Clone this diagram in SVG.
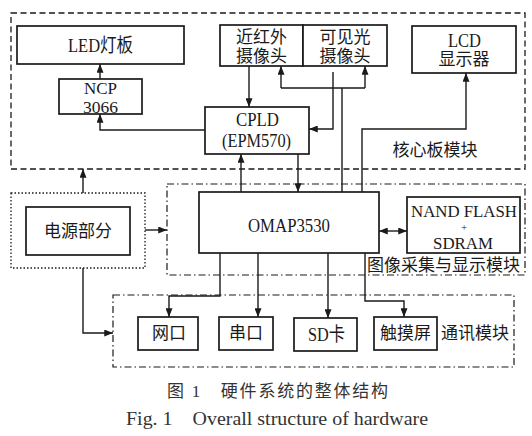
<svg xmlns="http://www.w3.org/2000/svg" width="532" height="436" viewBox="0 0 532 436">
<style>
.box{fill:#fff;stroke:#1a1a1a;stroke-width:1.7}
.dash{fill:none;stroke:#1a1a1a;stroke-width:1.3;stroke-dasharray:6,3.5}
.dd{fill:none;stroke:#1a1a1a;stroke-width:1.2;stroke-dasharray:7,3,1.5,3}
.dot{fill:none;stroke:#1a1a1a;stroke-width:1.3;stroke-dasharray:1.5,2}
.c{fill:none;stroke:#1a1a1a;stroke-width:1.4}
.a{marker-end:url(#ah)}
text{font-family:"Liberation Serif","Noto Sans CJK SC",serif;font-size:19px;fill:#1a1a1a;text-anchor:middle;dominant-baseline:central}
.zh{font-size:17px}
.cap{fill:#333}
</style>
<defs>
<marker id="ah" viewBox="0 0 10 8" refX="10" refY="4" markerWidth="9" markerHeight="7" markerUnits="userSpaceOnUse" orient="auto">
<path d="M0,0 L10,4 L0,8 Z" fill="#1a1a1a"/>
</marker>
<marker id="as" viewBox="0 0 10 8" refX="0" refY="4" markerWidth="9" markerHeight="7" markerUnits="userSpaceOnUse" orient="auto">
<path d="M10,0 L0,4 L10,8 Z" fill="#1a1a1a"/>
</marker>
</defs>
<rect width="532" height="436" fill="#fff"/>
<g id="groups">
<rect class="dash" x="11" y="13" width="514" height="156"/>
<rect class="dd" x="167" y="184" width="358" height="91"/>
<rect class="dd" x="113" y="295" width="401" height="72"/>
<rect class="dot" x="11" y="193" width="134" height="75"/>
<text class="zh" x="435" y="150">核心板模块</text>
<text class="zh" x="443.5" y="265">图像采集与显示模块</text>
<text class="zh" x="475" y="333">通讯模块</text>
</g>
<g id="connectors">
<path class="c a" d="M100,79 V64"/>
<path class="c a" d="M205,130 H100 V114"/>
<path class="c a" d="M249,66 V107"/>
<path class="c" d="M342,192 V88 M281,88 H365"/>
<path class="c a" d="M281,88 V66"/>
<path class="c a" d="M365,88 V66"/>
<path class="c a" d="M333,72 V129 H309"/>
<path class="c a" d="M362,192 V129 H466 V73"/>
<path class="c a" d="M298,154 V192"/>
<path class="c a" d="M241,192 V154"/>
<path class="c a" d="M83,193 V169"/>
<path class="c a" d="M145,230 H167"/>
<path class="c a" d="M379,231 H407" marker-start="url(#as)"/>
<path class="c a" d="M83,268 V333 H113"/>
<path class="c a" d="M220,253 V296 H169 V317"/>
<path class="c a" d="M258,253 V317"/>
<path class="c a" d="M328,253 V318"/>
<path class="c a" d="M365,253 V301 H404 V317"/>
</g>
<g id="led"><rect class="box" x="17" y="26" width="167" height="38"/><text x="100.5" y="45" textLength="65" lengthAdjust="spacingAndGlyphs">LED灯板</text></g>
<g id="ncp"><rect class="box" x="59" y="79" width="83" height="35"/><text style="font-size:17px"><tspan x="100.5" y="87.5" textLength="33" lengthAdjust="spacingAndGlyphs">NCP</tspan><tspan x="100.5" y="106.5" textLength="35" lengthAdjust="spacingAndGlyphs">3066</tspan></text></g>
<g id="cam-ir"><rect class="box" x="220" y="25" width="83" height="41"/><text class="zh"><tspan x="261.5" y="37">近红外</tspan><tspan x="261.5" y="56">摄像头</tspan></text></g>
<g id="cam-vis"><rect class="box" x="303" y="25" width="84" height="41"/><text class="zh"><tspan x="345" y="37">可见光</tspan><tspan x="345" y="56">摄像头</tspan></text></g>
<g id="lcd"><rect class="box" x="412" y="26" width="104" height="47"/><text x="464.5" y="40" textLength="33" lengthAdjust="spacingAndGlyphs">LCD</text><text class="zh" x="464" y="59">显示器</text></g>
<g id="cpld"><rect class="box" x="205" y="107" width="104" height="47"/><text><tspan x="257.5" y="118.5" textLength="43" lengthAdjust="spacingAndGlyphs">CPLD</tspan><tspan x="256.5" y="140" textLength="69" lengthAdjust="spacingAndGlyphs">(EPM570)</tspan></text></g>
<g id="power"><rect class="box" x="26" y="207" width="104" height="48"/><text class="zh" x="78" y="231">电源部分</text></g>
<g id="omap"><rect class="box" x="199" y="192" width="180" height="61"/><text x="289" y="225" textLength="82" lengthAdjust="spacingAndGlyphs">OMAP3530</text></g>
<g id="nand"><rect class="box" x="407" y="197" width="113" height="56"/><text style="font-size:17.5px"><tspan x="464" y="211" textLength="106" lengthAdjust="spacingAndGlyphs">NAND FLASH</tspan><tspan x="464" y="227" style="font-size:11px">+</tspan><tspan x="463" y="243" textLength="60" lengthAdjust="spacingAndGlyphs">SDRAM</tspan></text></g>
<g id="net"><rect class="box" x="138" y="317" width="60" height="33"/><text class="zh" x="169" y="333.5">网口</text></g>
<g id="serial"><rect class="box" x="219" y="317" width="54" height="33"/><text class="zh" x="246" y="333.5">串口</text></g>
<g id="sd"><rect class="box" x="294" y="318" width="63" height="33"/><text x="326.5" y="334" textLength="37" lengthAdjust="spacingAndGlyphs">SD卡</text></g>
<g id="touch"><rect class="box" x="374" y="317" width="63" height="33"/><text class="zh" x="405.5" y="333.5">触摸屏</text></g>
<g id="caption">
<text class="cap zh" x="277.5" y="391.5" textLength="221" lengthAdjust="spacing">图 1　硬件系统的整体结构</text>
<text class="cap" x="277" y="418" textLength="302" lengthAdjust="spacingAndGlyphs" style="font-size:19px">Fig. 1　Overall structure of hardware</text>
</g>
</svg>
